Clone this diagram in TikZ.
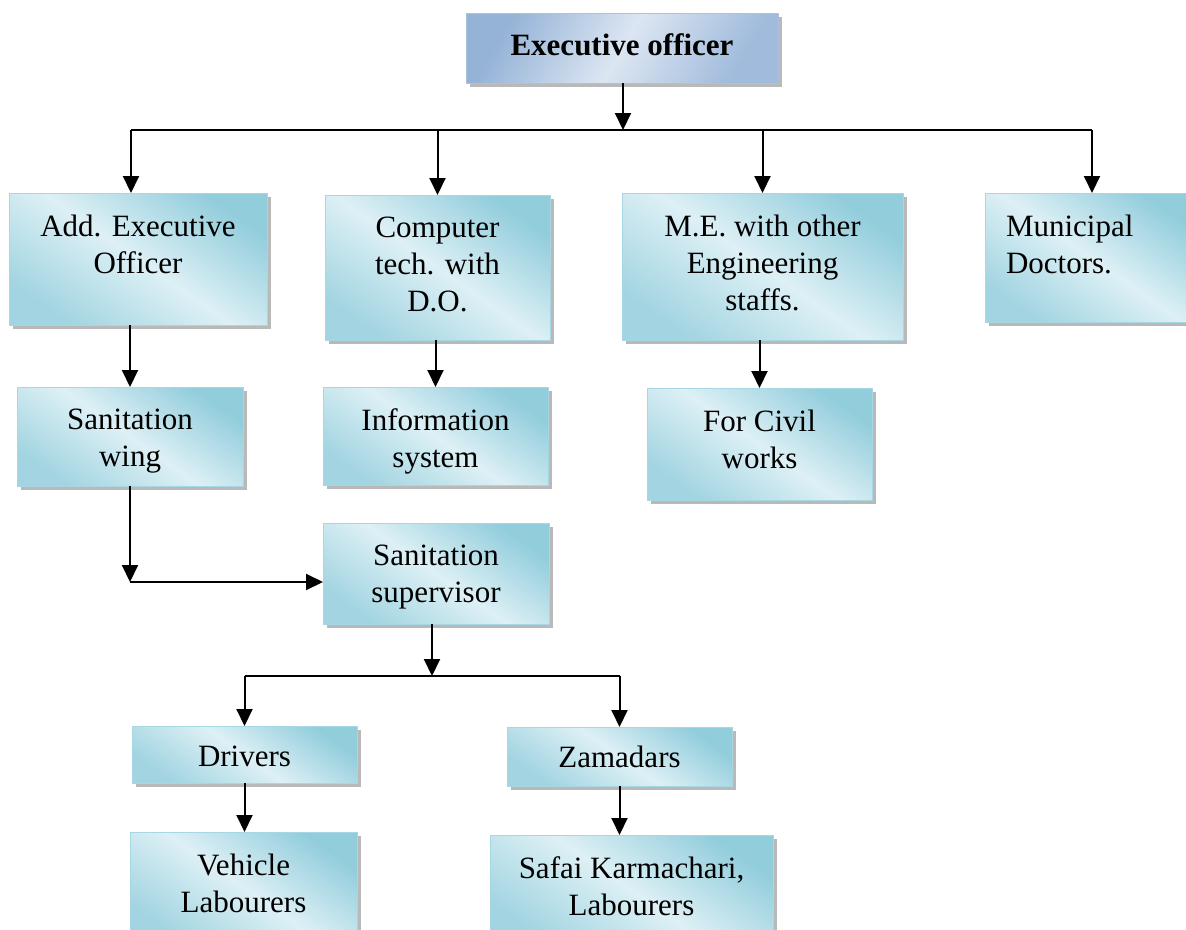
\documentclass[tikz,border=0pt]{standalone}
\usepackage{fontspec}
\setmainfont{Liberation Serif}
\usetikzlibrary{positioning,shadows,arrows.meta}

\definecolor{aquadark}{HTML}{92CDDC}
\definecolor{aqualight}{HTML}{DDF0F5}
\definecolor{aquaedge}{HTML}{A8D7E4}
\definecolor{bluedark}{HTML}{95B3D7}
\definecolor{bluelight}{HTML}{DCE6F2}

\tikzset{
  orgbox/.style={anchor=north west, draw=aquaedge, line width=1pt, inner sep=0pt, outer sep=0pt,
    top color=aquadark, bottom color=aquadark!85, middle color=aqualight, shading angle=-35,
    drop shadow={shadow xshift=4pt, shadow yshift=-4pt, fill=gray!55, opacity=1}},
  headbox/.style={orgbox, draw=bluedark!80, top color=bluedark, bottom color=bluedark!90, middle color=bluelight, shading angle=60},
  boxtext/.style={anchor=north, align=center, inner sep=0pt, outer sep=0pt, execute at begin node=\strut},
  arr/.style={-{Triangle[width=16pt,length=17pt]}},
}

\begin{document}
\begin{tikzpicture}[x=1pt, y=-1pt, line width=2pt, font=\fontsize{31}{37}\selectfont]

  \useasboundingbox (0,0) rectangle (1186,929);

  % Head
  \node[headbox, minimum width=312pt, minimum height=70pt] (eo) at (466,13) {}; %
  \node[boxtext, below=17pt of eo.north] (eo-t) {\textbf{Executive officer}}; %

  % First row
  \node[orgbox, minimum width=258pt, minimum height=132pt] (add) at (9,193) {}; %
  \node[boxtext, below=22pt of add.north] (add-t) {Add. Executive\\Officer}; %
  \node[orgbox, minimum width=225pt, minimum height=145pt] (cd) at (325,195) {}; %
  \node[boxtext, below=22pt of cd.north] (cd-t) {Computer\\tech. with\\D.O.}; %
  \node[orgbox, minimum width=281pt, minimum height=147pt] (me) at (622,193) {}; %
  \node[boxtext, below=22pt of me.north] (me-t) {M.E. with other\\Engineering\\staffs.}; %
  \node[orgbox, minimum width=212pt, minimum height=129pt] (mun) at (985,193) {}; %
  \node[boxtext, align=left, below right=22pt and 21pt of mun.north west] (mun-t) {Municipal\\Doctors.}; %

  % Second row
  \node[orgbox, minimum width=226pt, minimum height=99pt] (sw) at (17,387) {}; %
  \node[boxtext, below=22pt of sw.north] (sw-t) {Sanitation\\wing}; %
  \node[orgbox, minimum width=225pt, minimum height=98pt] (inf) at (323,387) {}; %
  \node[boxtext, below=22pt of inf.north] (inf-t) {Information\\system}; %
  \node[orgbox, minimum width=225pt, minimum height=112pt] (civ) at (647,388) {}; %
  \node[boxtext, below=22pt of civ.north] (civ-t) {For Civil\\works}; %

  % Sanitation
  \node[orgbox, minimum width=226pt, minimum height=101pt] (sup) at (323,523) {}; %
  \node[boxtext, below=22pt of sup.north] (sup-t) {Sanitation\\supervisor}; %
  \node[orgbox, minimum width=225pt, minimum height=57pt] (drv) at (132,726) {}; %
  \node[boxtext, below=15pt of drv.north] (drv-t) {Drivers}; %
  \node[orgbox, minimum width=225pt, minimum height=59pt] (zam) at (507,727) {}; %
  \node[boxtext, below=15pt of zam.north] (zam-t) {Zamadars}; %
  \node[orgbox, minimum width=227pt, minimum height=110pt] (veh) at (130,832) {}; %
  \node[boxtext, below=22pt of veh.north] (veh-t) {Vehicle\\Labourers}; %
  \node[orgbox, minimum width=283pt, minimum height=110pt] (saf) at (490,835) {}; %
  \node[boxtext, below=22pt of saf.north] (saf-t) {Safai Karmachari,\\Labourers}; %

  % Bus under the head
  \coordinate (bus)   at (623,130); %
  \coordinate (bus-w) at (131,130); %
  \coordinate (bus-e) at (1092,130); %
  \draw[arr] (bus |- eo.south) -- (bus); %
  \draw (bus-w) -- (bus-e); %
  \draw[arr] (bus-w) -- (bus-w |- add.north); %
  \draw[arr] (bus -| cd.north) -- (cd.north); %
  \draw[arr] (bus -| me.north) -- (me.north); %
  \draw[arr] (bus-e) -- (bus-e |- mun.north); %

  % Down to the second row
  \draw[arr] (sw.north |- add.south) -- (sw.north); %
  \draw[arr] (inf.north |- cd.south) -- (inf.north); %
  \draw[arr] (civ.north |- me.south) -- (civ.north); %

  % Sanitation wing to supervisor
  \coordinate (bend) at (130,582); %
  \draw[arr] (sw.south) -- (bend); %
  \draw[arr] (bend) -- (bend -| sup.west); %

  % Supervisor split
  \coordinate (split) at (432,676); %
  \draw[arr] (split |- sup.south) -- (split); %
  \draw (split -| drv.north) -- (split -| zam.north); %
  \draw[arr] (split -| drv.north) -- (drv.north); %
  \draw[arr] (split -| zam.north) -- (zam.north); %
  \draw[arr] (drv.south) -- (drv.south |- veh.north); %
  \draw[arr] (zam.south) -- (zam.south |- saf.north); %

\end{tikzpicture}
\end{document}
